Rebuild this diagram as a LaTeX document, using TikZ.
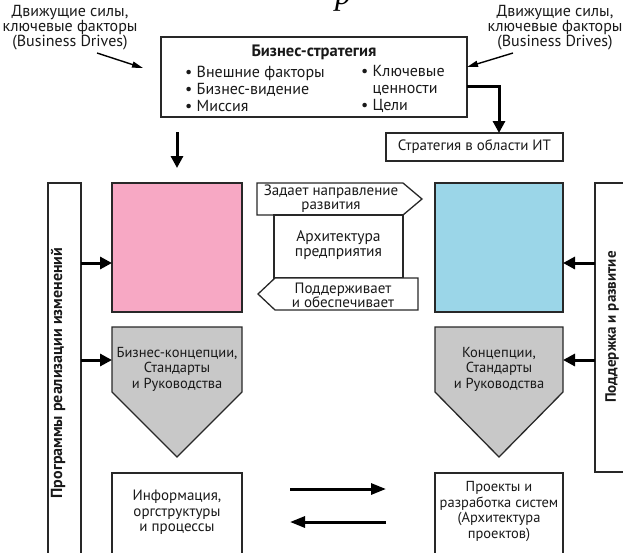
\documentclass[tikz,border=0pt]{standalone}
\usepackage{fontspec}
\setmainfont{PT Sans}
\newfontfamily\serifit{Liberation Serif}
\usetikzlibrary{arrows.meta}
\definecolor{pinkfill}{RGB}{247,168,196}
\definecolor{bluefill}{RGB}{155,214,232}
\definecolor{grayfill}{RGB}{200,200,200}
\definecolor{edge}{RGB}{40,40,40}
\newcommand{\fs}[2]{\fontsize{#1}{#2}\selectfont}
\begin{document}
\begin{tikzpicture}[x=1pt,y=-1pt,
  box/.style={draw=edge, line width=1.3pt, inner sep=0pt, outer sep=0pt},
  txt/.style={font=\fs{15.5}{15}, align=center, inner sep=0pt, text=black!90},
  fat/.style={line width=3pt, draw=black, -{Triangle[length=12pt,width=12pt]}},
  longfat/.style={line width=3pt, draw=black, -{Triangle[length=15pt,width=11pt]}},
  thinarrow/.style={line width=1.4pt, draw=black, -{Triangle[length=11pt,width=6pt]}}]
\useasboundingbox (0,0) rectangle (623,552);
\begin{scope}
\clip (0,0) rectangle (623,552);
% cut caption glyph
\node[font=\serifit\itshape\fs{32}{32}, anchor=base, inner sep=0pt] (capglyph) at (343,4) {р};
% labels
\node[txt, font=\fs{16}{15}] (lblL) at (70,28) {Движущие силы,\\ключевые факторы\\(Business Drives)};
\node[txt, font=\fs{16}{15}] (lblR) at (555,28) {Движущие силы,\\ключевые факторы\\(Business Drives)};
\coordinate (aLs) at (97,53);
\coordinate (aLe) at (143,68);
\coordinate (aRs) at (513,53);
\coordinate (yR) at (0,67);
% business strategy
\node[box, minimum width=306pt, minimum height=80pt] (bs) at (314,77) {};
\node[txt, font=\bfseries\fs{16.5}{15}] (bstitle) at (314,52) {Бизнес-стратегия};
\node[txt, align=left, anchor=west, font=\fs{16}{17}] (bsL) at (185,89) {• Внешние факторы\\• Бизнес-видение\\• Миссия};
\node[txt, align=left, anchor=west, font=\fs{16}{17}] (bsR) at (361,89) {• Ключевые\\\phantom{• }ценности\\• Цели};
\draw[thinarrow] (aLs) -- (aLe);
\draw[thinarrow] (aRs) -- (bs.east |- yR);
% IT strategy
\node[box, minimum width=177pt, minimum height=28pt] (it) at (474.5,147) {};
\node[txt, font=\fs{15}{15}] (ittxt) at (474.5,147) {Стратегия в области ИТ};
\coordinate (y86) at (0,86);
\coordinate (x499) at (499,0);
\draw[line width=3pt, -{Triangle[length=12pt,width=12pt]}] (bs.east |- y86) -| (it.north -| x499);
% down arrow
\coordinate (dS) at (177,132);
\coordinate (dE) at (177,168);
\draw[fat] (dS) -- (dE);
% vertical side boxes
\node[box, minimum width=33pt, minimum height=437pt] (lv) at (64.5,401.5) {};
\node[txt, font=\bfseries\fs{16}{15}, rotate=90] (lvtxt) at (58,373) {Программы реализации изменений};
\node[box, minimum width=45pt, minimum height=289pt] (rv) at (617.5,327.5) {};
\node[txt, font=\bfseries\fs{15}{15}, rotate=90] (rvtxt) at (612,327) {Поддержка и развитие};
% coloured boxes
\node[box, fill=pinkfill, minimum width=130pt, minimum height=129pt] (pink) at (177,247.5) {};
\node[box, fill=bluefill, minimum width=128pt, minimum height=129pt] (blue) at (499,247.5) {};
% middle architecture
\draw[edge, line width=1.3pt, fill=white] (257,183) -- (403,183) -- (422,199) -- (403,215) -- (257,215) -- cycle;
\node[box, minimum width=129pt, minimum height=63pt] (arch) at (338.5,246.5) {};
\draw[edge, line width=1.3pt, fill=white] (275,278) -- (418,278) -- (418,310) -- (275,310) -- (258,294) -- cycle;
\node[txt, font=\fs{15}{14}] (dirtxt) at (331,198.5) {Задает направление\\развития};
\node[txt] (archtxt) at (338.5,245.5) {Архитектура\\предприятия};
\node[txt, font=\fs{15}{14}] (suptxt) at (343,295.5) {Поддерживает\\и обеспечивает};
% gray pentagons
\draw[edge, line width=1.3pt, fill=grayfill] (112,327) -- (242,327) -- (242,392) -- (177,457) -- (112,392) -- cycle;
\draw[edge, line width=1.3pt, fill=grayfill] (435,327) -- (563,327) -- (563,392) -- (499,457) -- (435,392) -- cycle;
\node[txt, font=\fs{14.5}{15.5}] (bctxt) at (177,369) {Бизнес-концепции,\\Стандарты\\и Руководства};
\node[txt, font=\fs{14.5}{15.5}] (ctxt) at (499,369) {Концепции,\\Стандарты\\и Руководства};
% side arrows
\coordinate (y263) at (0,263);
\coordinate (y360) at (0,360);
\draw[fat] (lv.east |- y263) -- (pink.west |- y263);
\draw[fat] (lv.east |- y360) -- (pink.west |- y360);
\draw[fat] (rv.west |- y263) -- (blue.east |- y263);
\draw[fat] (rv.west |- y360) -- (blue.east |- y360);
% bottom boxes
\node[box, minimum width=130pt, minimum height=127pt] (info) at (177,536.5) {};
\node[txt, font=\fs{15}{15.5}] (infotxt) at (177,512.5) {Информация,\\оргструктуры\\и процессы};
\node[box, minimum width=128pt, minimum height=127pt] (proj) at (499,536.5) {};
\node[txt, font=\fs{14.5}{15.7}] (projtxt) at (499,511.5) {Проекты и\\разработка систем\\(Архитектура\\проектов)};
\coordinate (hA1) at (290,489);
\coordinate (hA2) at (386,489);
\coordinate (hB1) at (386,522);
\coordinate (hB2) at (290,522);
\draw[longfat] (hA1) -- (hA2);
\draw[longfat] (hB1) -- (hB2);
\end{scope}
\end{tikzpicture}
\end{document}
